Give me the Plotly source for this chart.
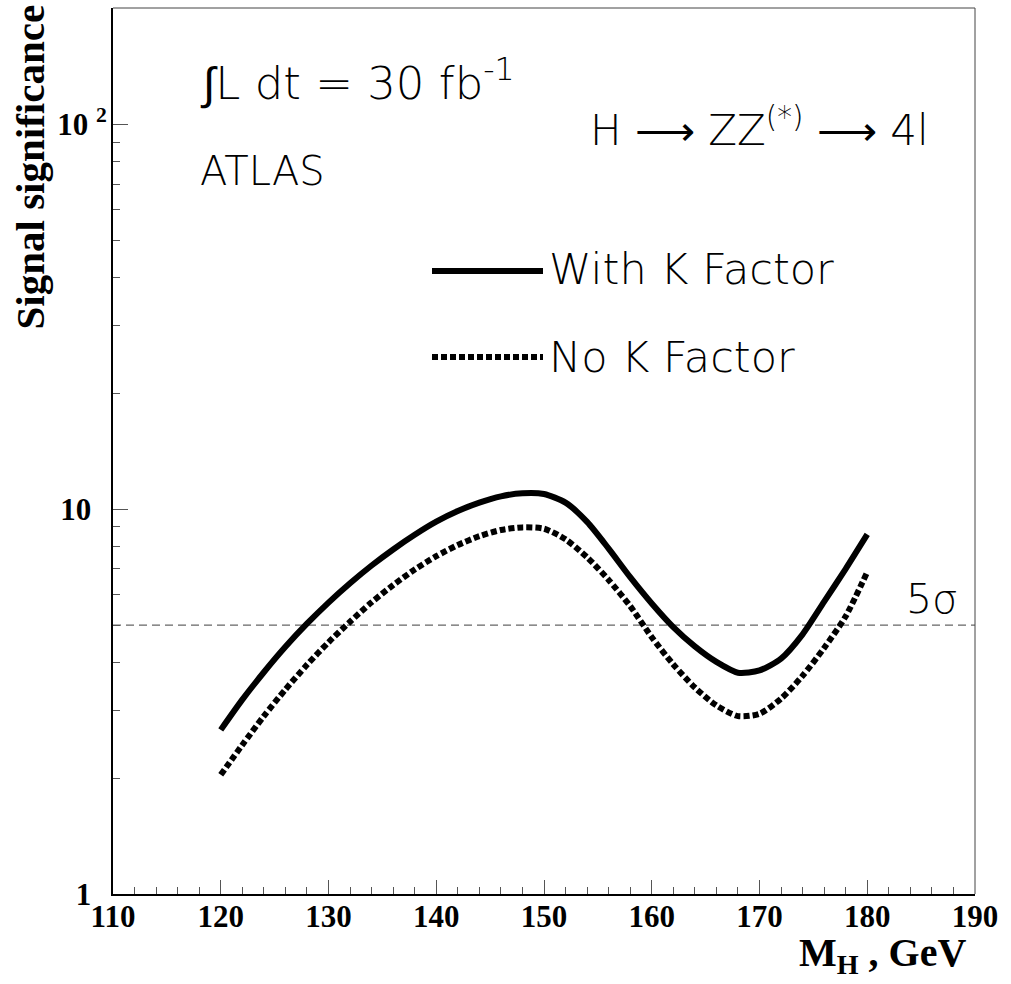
import plotly.graph_objects as go

# Higgs mass points (GeV)
mass = [120, 122, 124, 126, 128, 130, 132, 134, 136, 138, 140, 142, 144, 146, 148,
        150, 152, 154, 156, 158, 160, 162, 164, 166, 168, 170, 172, 174, 176, 178, 180]
# Signal significance with K factor (solid)
sig_with_k = [2.67, 3.20, 3.77, 4.39, 5.04, 5.72, 6.42, 7.14, 7.86, 8.58, 9.28, 9.89, 10.4, 10.8, 11.0,
              10.95, 10.4, 9.27, 7.9, 6.66, 5.69, 4.94, 4.40, 4.01, 3.76, 3.81, 4.09, 4.73, 5.75, 7.0, 8.6]
# Signal significance without K factor (dotted)
sig_no_k = [2.04, 2.44, 2.90, 3.40, 3.94, 4.51, 5.10, 5.73, 6.35, 6.97, 7.55, 8.07, 8.51, 8.83, 8.97,
            8.9, 8.35, 7.5, 6.55, 5.6, 4.65, 3.95, 3.44, 3.09, 2.90, 2.94, 3.22, 3.69, 4.36, 5.27, 6.87]
# 5 sigma discovery line
five_sigma_x = [110, 190]
five_sigma_y = [5, 5]

x_ticks = [110, 120, 130, 140, 150, 160, 170, 180, 190]
y_ticks = [1, 10, 100]
NB = "\u00a0"
y_ticktext = ["1" + NB * 2, "10" + NB * 2, "10 <sup>2</sup>"]
y_minor = [2, 3, 4, 5, 6, 7, 8, 9, 20, 30, 40, 50, 60, 70, 80, 90, 200]

W, H = 1011, 984
L, R, T, B = 113, 36, 8, 90
pw, ph = W - L - R, H - T - B

def px(xp):
    return (xp - L) / pw

def py(yp):
    return (H - B - yp) / ph

TXT = "'DejaVu Sans', sans-serif"
SERIF = "'Liberation Serif', 'Times New Roman', serif"

fig = go.Figure()
fig.add_trace(go.Scatter(x=five_sigma_x, y=five_sigma_y, mode="lines",
                         line=dict(color="#666666", width=1.3, dash="8px,5px"),
                         showlegend=False, hoverinfo="skip"))
fig.add_trace(go.Scatter(x=mass, y=sig_with_k, mode="lines",
                         line=dict(color="black", width=6, shape="spline", smoothing=0.7),
                         showlegend=False))
fig.add_trace(go.Scatter(x=mass, y=sig_no_k, mode="lines",
                         line=dict(color="black", width=6, shape="spline", smoothing=0.7,
                                   dash="6px,3px"),
                         showlegend=False))

fig.update_layout(
    width=W, height=H,
    margin=dict(l=L, r=R, t=T, b=B, autoexpand=False),
    paper_bgcolor="white", plot_bgcolor="white",
    xaxis=dict(range=[110, 190], tickvals=x_ticks, ticks="inside", ticklen=14,
               tickcolor="#555555", tickwidth=1, showline=True, linecolor="black",
               linewidth=2, showgrid=False, zeroline=False, ticklabelstandoff=-6,
               tickfont=dict(family=SERIF, size=31, color="black", weight="bold"),
               minor=dict(dtick=2, ticks="inside", ticklen=7, tickcolor="#555555",
                          tickwidth=1, showgrid=False)),
    yaxis=dict(type="log", range=[0, 2.3026], tickvals=y_ticks, ticktext=y_ticktext,
               ticks="inside", ticklen=15, tickcolor="#555555", tickwidth=1,
               showline=True, linecolor="black", linewidth=2, showgrid=False,
               zeroline=False, ticklabelstandoff=-2,
               tickfont=dict(family=SERIF, size=31, color="black", weight="bold"),
               minor=dict(tickvals=y_minor, ticks="inside", ticklen=7,
                          tickcolor="#555555", tickwidth=1, showgrid=False)),
    shapes=[
        dict(type="line", xref="paper", yref="paper", x0=0, x1=1, y0=1, y1=1,
             line=dict(color="#444444", width=1)),
        dict(type="line", xref="paper", yref="paper", x0=1, x1=1, y0=0, y1=1,
             line=dict(color="#444444", width=1)),
        dict(type="line", xref="paper", yref="paper", x0=px(432), x1=px(543),
             y0=py(271), y1=py(271), line=dict(color="black", width=6)),
        dict(type="line", xref="paper", yref="paper", x0=px(432), x1=px(543),
             y0=py(357), y1=py(357), line=dict(color="black", width=6, dash="6px,3px")),
    ],
)

annots = [
    dict(text="∫L dt = 30 fb<sup>-1</sup>", x=px(198), y=py(80), size=45),
    dict(text="ATLAS", x=px(198), y=py(171), size=40),
    dict(text="H ⟶ ZZ<sup>(*)</sup> ⟶ 4l", x=px(588), y=py(127), size=42),
    dict(text="With K Factor", x=px(547), y=py(269), size=43),
    dict(text="No K Factor", x=px(547), y=py(357), size=43),
    dict(text="5σ", x=px(904), y=py(599), size=41),
]
for a in annots:
    fig.add_annotation(text=a["text"], x=a["x"], y=a["y"], xref="paper", yref="paper",
                       xanchor="left", yanchor="middle", showarrow=False,
                       font=dict(family=TXT, size=a["size"], color="black", weight=200))

fig.add_annotation(text="M<sub>H</sub> , GeV", x=px(968), y=py(955), xref="paper",
                   yref="paper", xanchor="right", yanchor="middle", showarrow=False,
                   font=dict(family=SERIF, size=40, color="black", weight="bold"))
fig.add_annotation(text="Signal significance", x=px(30), y=py(3), xref="paper",
                   yref="paper", xanchor="center", yanchor="top", textangle=-90,
                   showarrow=False,
                   font=dict(family=SERIF, size=41, color="black", weight="bold"))

fig.write_html("out.html")
